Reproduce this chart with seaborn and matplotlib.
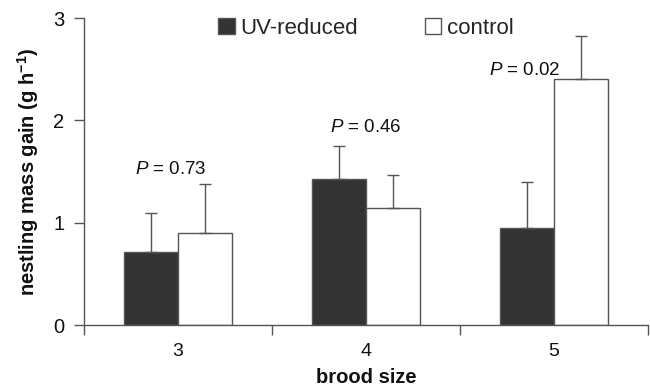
import matplotlib
matplotlib.use("Agg")
import matplotlib.pyplot as plt
import seaborn as sns
import pandas as pd
from matplotlib.patches import Patch
from matplotlib.ticker import FixedLocator

brood_sizes = ["3", "4", "5"]
treatments = ["UV-reduced", "control"]
uv_reduced = [0.71, 1.43, 0.95]
control = [0.90, 1.14, 2.40]
uv_err = [0.38, 0.32, 0.45]
control_err = [0.48, 0.33, 0.42]
p_labels = ["0.73", "0.46", "0.02"]

sns.set_theme(style="white")
plt.rcParams['font.family'] = ['Liberation Sans', 'DejaVu Sans']
plt.rcParams['mathtext.fontset'] = 'custom'
plt.rcParams['mathtext.rm'] = 'Liberation Sans'
plt.rcParams['mathtext.it'] = 'Liberation Sans:italic'
plt.rcParams['mathtext.bf'] = 'Liberation Sans:bold'

df = pd.DataFrame({
    "brood size": brood_sizes * 2,
    "treatment": [treatments[0]] * 3 + [treatments[1]] * 3,
    "gain": uv_reduced + control,
    "err": uv_err + control_err,
})

fig = plt.figure(figsize=(6.5, 3.89), dpi=100)
ax = fig.add_axes([0.1292, 0.1645, 0.8677, 0.7892])

edge = "#555555"
txt = "#111111"
palette = {"UV-reduced": "#333333", "control": "#ffffff"}
sns.barplot(data=df, x="brood size", y="gain", hue="treatment", order=brood_sizes,
            hue_order=treatments, palette=palette, width=0.574, edgecolor=edge,
            linewidth=1.0, errorbar=None, legend=False, ax=ax, saturation=1)

# error bars (upper only) at bar centers
for container, tr in zip(ax.containers, treatments):
    errs = df[df["treatment"] == tr]["err"].tolist()
    vals = df[df["treatment"] == tr]["gain"].tolist()
    xs = [b.get_x() + b.get_width() / 2 for b in container]
    ax.errorbar(xs, vals, yerr=[[0] * len(errs), errs], fmt="none",
                ecolor=edge, elinewidth=1.0, capsize=4, capthick=1.0, zorder=1)

# P labels
p_x = [-0.037, 1.0, 1.846]
p_y = [1.515, 1.926, 2.486]
for x, y, p in zip(p_x, p_y, p_labels):
    ax.text(x, y, f"$P$ = {p}", ha="center", va="center", fontsize=13.5, color=txt)

ax.set_xlim(-0.5, 2.5)
ax.set_ylim(0, 3)
ax.set_yticks([0, 1, 2, 3])
ax.set_yticklabels(["0", "1", "2", "3"])
ax.xaxis.set_minor_locator(FixedLocator([-0.5, 0.5, 1.5, 2.5]))
ax.tick_params(axis="x", which="major", length=0, labelsize=14, pad=13, colors=txt)
ax.tick_params(axis="x", which="minor", length=7, width=1, color=edge, direction="out", bottom=True)
ax.tick_params(axis="y", which="major", length=7, width=1, color=edge, direction="out",
               labelsize=14.5, pad=7, left=True, labelcolor=txt)

for s in ["top", "right"]:
    ax.spines[s].set_visible(False)
for s in ["left", "bottom"]:
    ax.spines[s].set_color(edge)
    ax.spines[s].set_linewidth(1.0)

ax.set_xlabel("brood size", fontsize=14.5, fontweight="bold", color=txt, labelpad=6)
ax.set_ylabel("nestling mass gain (g h$^{\\mathbf{-1}}$)", fontsize=14.5, fontweight="bold",
              color=txt, labelpad=9)

handles = [Patch(facecolor="#333333", edgecolor=edge, label="UV-reduced"),
           Patch(facecolor="#ffffff", edgecolor=edge, label="control")]
ax.legend(handles=handles, loc="center", bbox_to_anchor=(0.5, 0.967), ncol=2,
          frameon=False, fontsize=16, handlelength=0.75, handleheight=0.75,
          handletextpad=0.25, columnspacing=3.0)

fig.savefig("out.png", dpi=100)
